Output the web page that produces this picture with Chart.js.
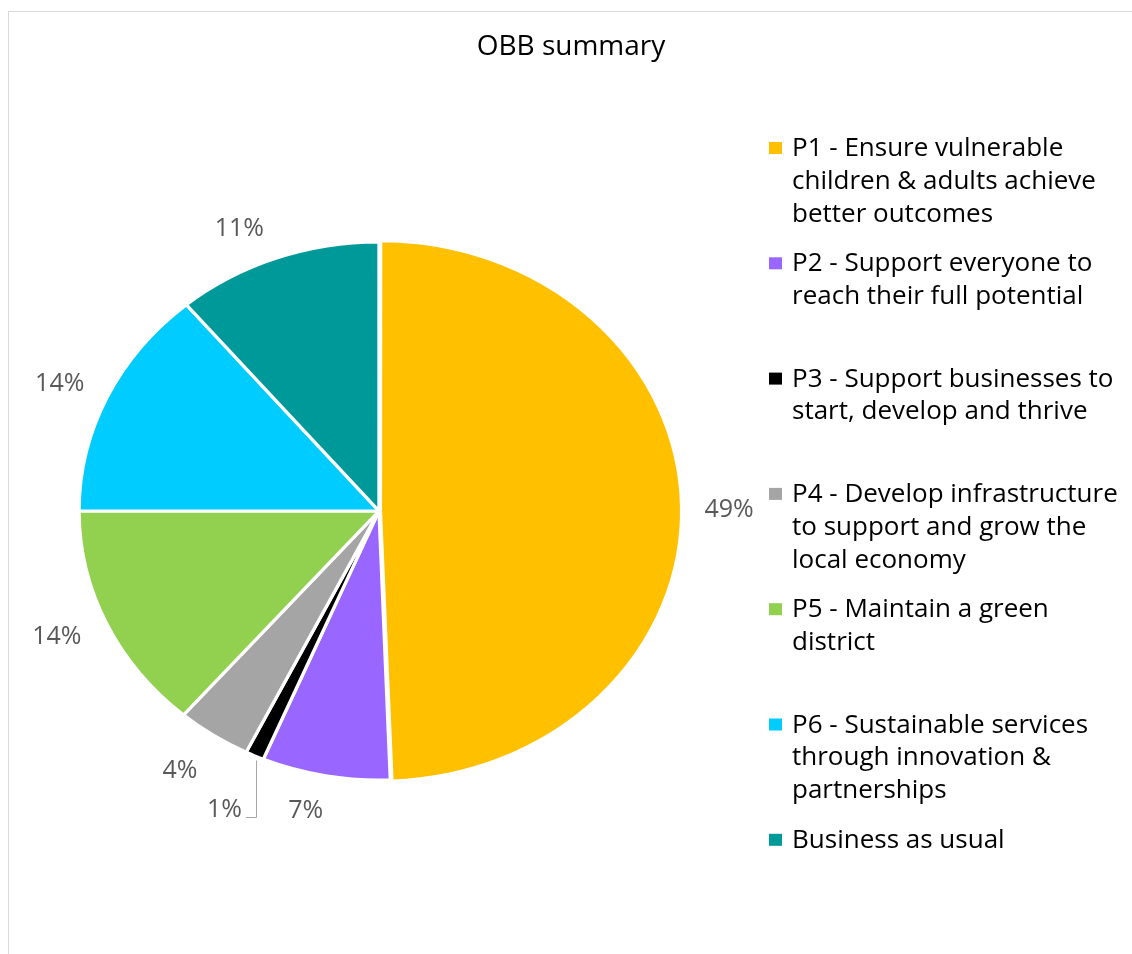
<!DOCTYPE html>
<html>
<head>
<meta charset="utf-8">
<title>OBB summary</title>
<script src="https://cdn.jsdelivr.net/npm/chart.js@4.4.1/dist/chart.umd.min.js"></script>
<style>
  html, body { margin: 0; padding: 0; background: #fff; overflow: hidden; }
  #frame { position: absolute; left: 8px; top: 11px; width: 1200px; height: 1000px; border: 1px solid #d9d9d9; }
  #wrap { position: absolute; left: 0; top: 0; width: 1132px; height: 954px; }
</style>
</head>
<body>
<div id="frame"></div>
<div id="wrap"><canvas id="obbChart"></canvas></div>
<script>
const chartTitle = 'OBB summary';
// legend text, already broken into lines like the original
const categories = [
    ['P1 - Ensure vulnerable', 'children & adults achieve', 'better outcomes'],
    ['P2 - Support everyone to', 'reach their full potential'],
    ['P3 - Support businesses to', 'start, develop and thrive'],
    ['P4 - Develop infrastructure', 'to support and grow the', 'local economy'],
    ['P5 - Maintain a green', 'district'],
    ['P6 - Sustainable services', 'through innovation &', 'partnerships'],
    ['Business as usual']
];
// shares (labels show them rounded)
const shares = [49.4, 6.9, 1.0, 4.0, 13.7, 13.9, 11.1];
const sliceColors = ['#FFC000', '#9966FF', '#000000', '#A5A5A5', '#92D050', '#00CCFF', '#009999'];

// the original pie is a bit wider than tall
const STRETCH = 1.115;
// small hand nudges so labels sit where Excel put them
const labelNudge = [[0, 5], [-11, -9], [0, 0], [-6, -2], [-4, -5], [-2, 6], [-20, 13]];

const ellipsePie = {
    id: 'ellipsePie',
    beforeDatasetsDraw(chart) {
        const arc = chart.getDatasetMeta(0).data[0];
        const ctx = chart.ctx;
        ctx.save();
        ctx.translate(arc.x, arc.y);
        ctx.scale(STRETCH, 1);
        ctx.translate(-arc.x, -arc.y);
    },
    afterDatasetsDraw(chart) {
        chart.ctx.restore();
    }
};

// title + percentage labels outside the slices
const outsideLabels = {
    id: 'outsideLabels',
    afterDraw(chart) {
        const ctx = chart.ctx;
        const total = shares.reduce((a, b) => a + b, 0);
        ctx.save();
        ctx.font = '28px "Open Sans"';
        ctx.fillStyle = '#000';
        ctx.textAlign = 'center';
        ctx.textBaseline = 'middle';
        ctx.fillText(chartTitle, 571, 47);

        ctx.font = '25px "Open Sans"';
        ctx.fillStyle = '#595959';
        chart.getDatasetMeta(0).data.forEach((arc, i) => {
            const mid = (arc.startAngle + arc.endAngle) / 2;
            const R = arc.outerRadius;
            const text = Math.round(shares[i] / total * 100) + '%';
            if (shares[i] / total < 0.02) {
                // tiny slice: leader line going down, label to the left
                const x0 = Math.round(arc.x + Math.cos(mid) * (R + 3) * STRETCH + 3);
                const y0 = arc.y + Math.sin(mid) * (R + 3) + 2;
                const y1 = Math.round(y0 + 56);
                const x1 = x0 - 10;
                ctx.strokeStyle = '#a6a6a6';
                ctx.lineWidth = 1;
                ctx.beginPath();
                ctx.moveTo(x0 + 0.5, y0);
                ctx.lineTo(x0 + 0.5, y1 + 0.5);
                ctx.lineTo(x1, y1 + 0.5);
                ctx.stroke();
                ctx.textAlign = 'right';
                ctx.fillText(text, x1 - 4, y1 - 7);
            } else {
                const r = R + 45;
                ctx.textAlign = 'center';
                ctx.fillText(text,
                    arc.x + Math.cos(mid) * r * STRETCH + labelNudge[i][0],
                    arc.y + Math.sin(mid) * r + labelNudge[i][1]);
            }
        });
        ctx.restore();
    }
};

// legend on the right with wrapped lines
const sideLegend = {
    id: 'sideLegend',
    afterDraw(chart) {
        const ctx = chart.ctx;
        const left = 769, firstBase = 156, pitch = 115.3, lineH = 32.8;
        const colors = chart.data.datasets[0].backgroundColor;
        ctx.save();
        ctx.font = '26px "Open Sans"';
        ctx.textAlign = 'left';
        ctx.textBaseline = 'alphabetic';
        chart.data.labels.forEach((lines, i) => {
            const base = firstBase + i * pitch;
            ctx.fillStyle = colors[i];
            ctx.fillRect(left, base - 14, 13, 12);
            ctx.fillStyle = '#000';
            lines.forEach((t, j) => ctx.fillText(t, left + 23, base + j * lineH));
        });
        ctx.restore();
    }
};

new Chart(document.getElementById('obbChart'), {
    type: 'pie',
    data: {
        labels: categories,
        datasets: [{
            data: shares,
            backgroundColor: sliceColors,
            borderColor: '#ffffff',
            borderWidth: 3,
            offset: (c) => c.dataIndex === 0 ? 5 : 0,
            hoverOffset: 0,
            clip: false
        }]
    },
    options: {
        responsive: true,
        maintainAspectRatio: false,
        animation: false,
        layout: {
            padding: { left: 106, right: 480, top: 238, bottom: 170 }
        },
        plugins: {
            legend: { display: false },
            tooltip: { enabled: false },
            title: { display: false }
        }
    },
    plugins: [ellipsePie, outsideLabels, sideLegend]
});
</script>
</body>
</html>
